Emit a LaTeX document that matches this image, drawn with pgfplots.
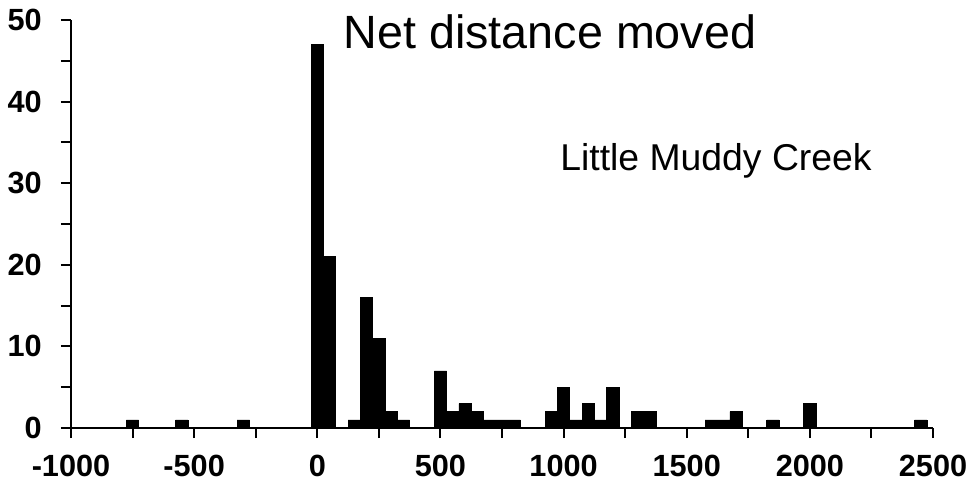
\documentclass[border=0pt]{standalone}
\usepackage{fontspec}
\setmainfont{Liberation Sans}
\usepackage{pgfplots}
\pgfplotsset{compat=1.18}
\begin{document}
\begin{tikzpicture}
\begin{axis}[
 scale only axis, width=646.5pt, height=306pt,
 xmin=-1000, xmax=2500, ymin=0, ymax=50,
 axis x line=bottom, axis y line=left,
 axis line style={line width=1.5pt, -},
 xtick={-1000,-500,...,2500},
 minor xtick={-750,-250,...,2250},
 ytick={0,10,...,50},
 minor ytick={5,15,...,45},
 tick align=outside,
 major tick length=7.5pt, minor tick length=7.5pt,
 every tick/.style={black, line width=1.5pt},
 tick label style={font=\fontsize{23}{27}\selectfont\bfseries},
 xticklabel style={yshift=-9pt},
 yticklabel style={xshift=-11pt},
 /pgf/number format/assume math mode=true,
 /pgf/number format/1000 sep={},
 clip=false,
]
\addplot[ybar, bar width=50, fill=black, draw=black, line width=0.4pt] coordinates {
(-750,1) (-550,1) (-300,1) (0,47) (50,21) (150,1) (200,16) (250,11) (300,2) (350,1)
(500,7) (550,2) (600,3) (650,2) (700,1) (750,1) (800,1) (950,2) (1000,5) (1050,1)
(1100,3) (1150,1) (1200,5) (1300,2) (1350,2) (1600,1) (1650,1) (1700,2) (1850,1)
(2000,3) (2450,1)
};
\node[font=\fontsize{35}{40}\selectfont] at (axis cs:945,48.5) {Net distance moved};
\node[font=\fontsize{28}{32}\selectfont] at (axis cs:1619,32.7) {Little Muddy Creek};
\end{axis}
\pgfresetboundingbox
\path (-53.25pt,-48pt) rectangle (679.5pt,321pt);
\end{tikzpicture}
\end{document}
